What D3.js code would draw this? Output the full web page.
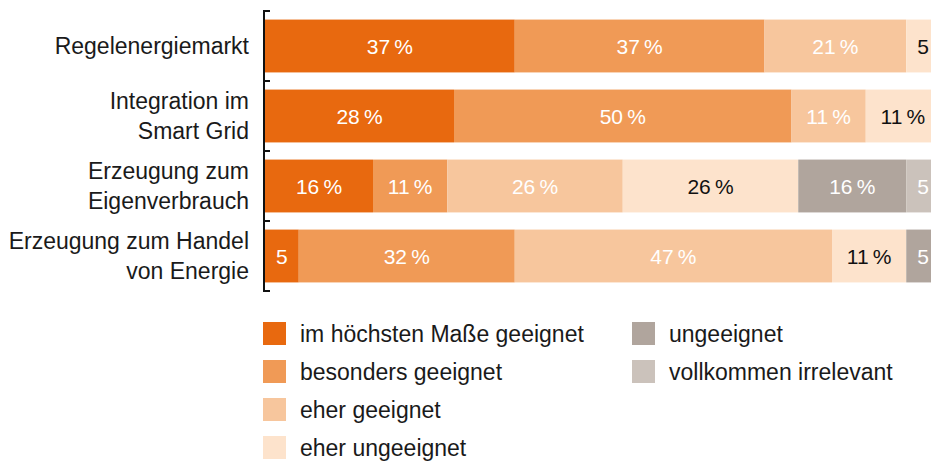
<!DOCTYPE html>
<html><head><meta charset="utf-8">
<script src="https://cdn.jsdelivr.net/npm/d3@7"></script>
<style>body{margin:0;background:#fff}svg{display:block}text{font-family:"Liberation Sans",Arial,sans-serif}</style>
</head><body><svg id="c" width="931" height="461"></svg>
<script>
const categories = [["Regelenergiemarkt"],["Integration im","Smart Grid"],["Erzeugung zum","Eigenverbrauch"],["Erzeugung zum Handel","von Energie"]];
const seriesNames = ["im höchsten Maße geeignet","besonders geeignet","eher geeignet","eher ungeeignet","ungeeignet","vollkommen irrelevant"];
const seriesColors = ["#e8690f","#f09a56","#f7c69d","#fde3cc","#b0a59d","#cbc2bb"];
const labelColors = ["#fff","#fff","#fff","#111","#fff","#fff"];
const sHoechst = [37,28,16,5];
const sBesonders = [37,50,11,32];
const sEherGeeignet = [21,11,26,47];
const sEherUngeeignet = [5,11,26,11];
const sUngeeignet = [0,0,16,5];
const sIrrelevant = [0,0,5,0];
const series = [sHoechst,sBesonders,sEherGeeignet,sEherUngeeignet,sUngeeignet,sIrrelevant];

const svg = d3.select("#c");
const keys = categories.map((c,i)=>i);
const x = d3.scaleLinear().domain([0,100]).range([265,940]);
const y = d3.scaleBand().domain(keys).range([11,291]).paddingInner(0.245).paddingOuter(0.1225);

const rows = keys.map(i=>{let acc=0;return series.map((s,j)=>{const v=s[i];const d={i,j,v,x0:acc,x1:acc+v};acc+=v;return d;});});
const g = svg.append("g");
rows.forEach(r=>{
  r.filter(d=>d.v>0).forEach(d=>{
    g.append("rect").attr("x",x(d.x0)).attr("y",y(d.i)).attr("width",x(d.x1)-x(d.x0)).attr("height",y.bandwidth()).attr("fill",seriesColors[d.j]);
    g.append("text").attr("x",(x(d.x0)+x(d.x1))/2).attr("y",y(d.i)+y.bandwidth()/2).attr("dy","0.36em")
      .attr("text-anchor","middle").attr("font-size",21).attr("fill",labelColors[d.j])
      .text(d.v<10? String(d.v) : d.v+"\u2009%");
  });
});

// axis
const step = y.step();
const tickVals = d3.range(5).map(k=>11+k*step);
svg.append("line").attr("x1",264).attr("x2",264).attr("y1",11).attr("y2",292).attr("stroke","#111").attr("stroke-width",2);
tickVals.forEach(t=>svg.append("line").attr("x1",263).attr("x2",270).attr("y1",t).attr("y2",t).attr("stroke","#111").attr("stroke-width",2));

// category labels
categories.forEach((lines,i)=>{
  const cy = y(i)+y.bandwidth()/2;
  const t = svg.append("text").attr("text-anchor","end").attr("font-size",23).attr("fill","#1a1a1a");
  lines.forEach((ln,k)=>{
    t.append("tspan").attr("x",249).attr("y",cy + (k-(lines.length-1)/2)*30).attr("dy","0.36em").text(ln);
  });
});

// legend
const legPos = [[263,322],[263,360],[263,398],[263,436],[632,322],[632,360]];
seriesNames.forEach((n,j)=>{
  const [lx,ly]=legPos[j];
  svg.append("rect").attr("x",lx).attr("y",ly).attr("width",23).attr("height",23).attr("fill",seriesColors[j]);
  svg.append("text").attr("x",lx+37).attr("y",ly+11.5).attr("dy","0.36em").attr("font-size",23).attr("fill","#1a1a1a").text(n);
});
</script></body></html>
